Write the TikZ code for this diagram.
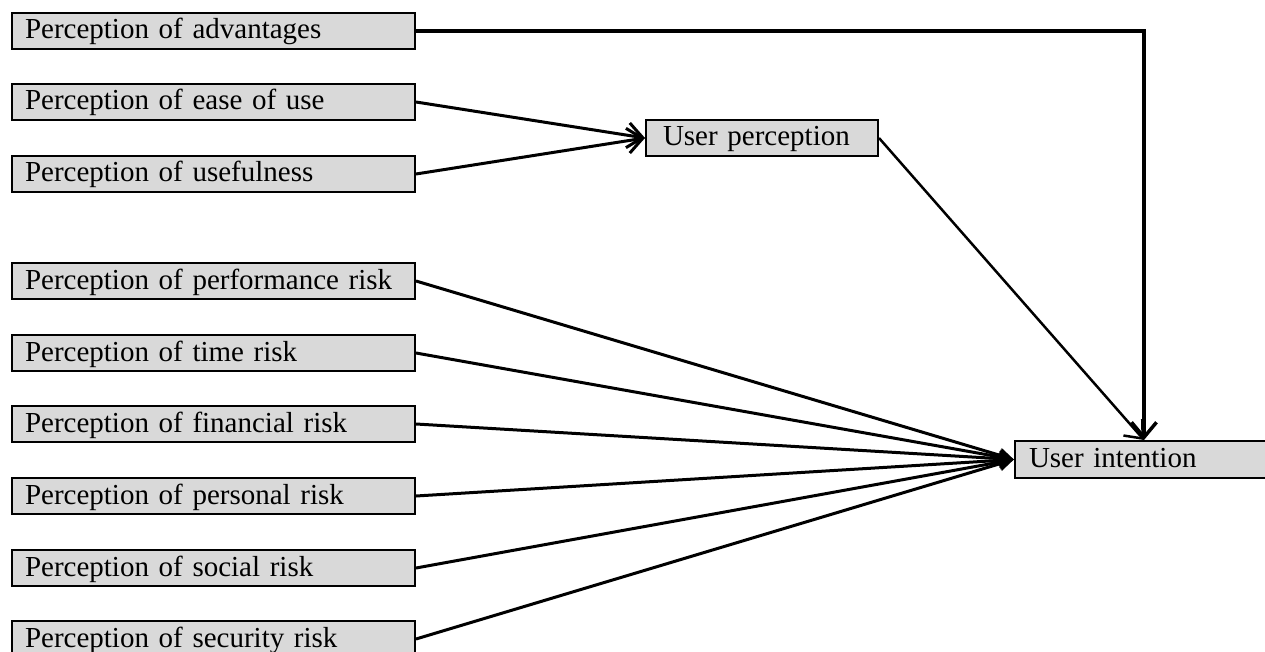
\documentclass[tikz,border=0pt]{standalone}
\usepackage{fontspec}
\setmainfont{Liberation Serif}
\usetikzlibrary{arrows.meta}
\definecolor{boxgray}{HTML}{D9D9D9}
\tikzset{
	factor/.style={draw, line width=2pt, fill=boxgray, anchor=north west,
		inner xsep=13pt, inner ysep=0pt, minimum height=36pt, text width=377pt,
		align=left, text height=22pt, text depth=6pt,
		font=\fontsize{29}{34}\selectfont},
	openhead/.style={-{Straight Barb[length=15pt,width=25pt]}},
	fullhead/.style={-{Triangle[length=15pt,width=14pt]}}
}
\begin{document}
\begin{tikzpicture}[x=1pt,y=-1pt]
		\useasboundingbox (0,0) rectangle (1265,652);

		\node[factor] (adv)  at (11, 12) {Perception of advantages};
		\node[factor] (ease) at (11, 83) {Perception of ease of use};
		\node[factor] (use)  at (11,155) {Perception of usefulness};
		\node[factor] (perf) at (11,262) {Perception of performance risk};
		\node[factor] (time) at (11,334) {Perception of time risk};
		\node[factor] (fin)  at (11,405) {Perception of financial risk};
		\node[factor] (pers) at (11,477) {Perception of personal risk};
		\node[factor] (soc)  at (11,549) {Perception of social risk};
		\node[factor] (sec)  at (11,620) {Perception of security risk};

		\node[factor, inner xsep=17pt, text width=198pt] (percep) at ( 645,119) {User perception};
		\node[factor, inner xsep=14pt, text width=230pt, minimum height=37pt] (intent) at (1014,440) {User intention};

		\draw[line width=3.5pt, openhead] (adv.east) -| (intent.north);
		\draw[line width=3pt, openhead] (ease.east) -- (percep.west);
		\draw[line width=3pt, openhead] (use.east) -- (percep.west);
		\draw[line width=2.5pt, openhead] (percep.east) -- (intent.north);

		\foreach \risk in {perf,time,fin,pers,soc,sec}
			\draw[line width=3pt, fullhead] (\risk.east) -- (intent.west);
	\end{tikzpicture}
\end{document}
